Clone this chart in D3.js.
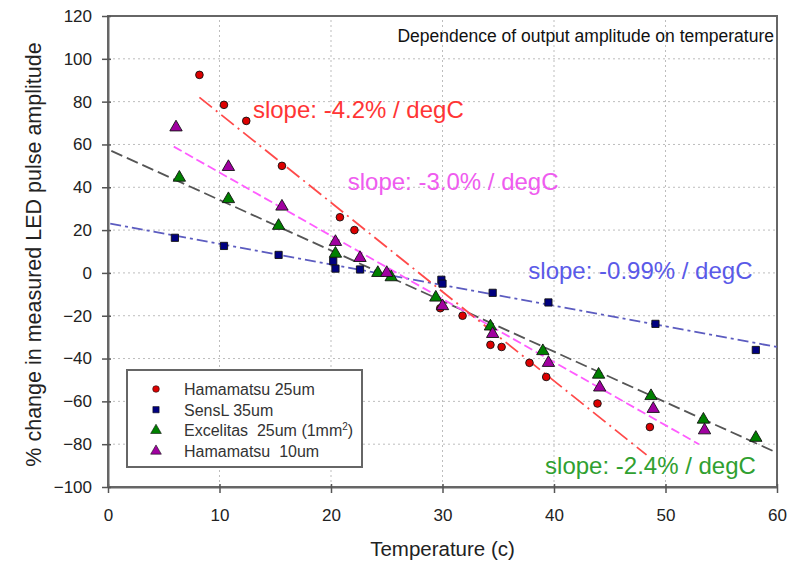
<!DOCTYPE html>
<html>
<head>
<meta charset="utf-8">
<script src="https://cdn.jsdelivr.net/npm/d3@7"></script>
<style>
  body { margin: 0; background: #fff; }
  svg { font-family: "Liberation Sans", Arial, sans-serif; }
</style>
</head>
<body>
<div id="chart"></div>
<script>
// data: [temperature, % change]
const hama25 = [[8.2, 92.5], [10.4, 78.5], [12.4, 71], [15.6, 50], [20.8, 26], [22.1, 20],
  [29.8, -16.5], [31.8, -20], [34.3, -33.6], [35.3, -34.6], [37.8, -42], [39.3, -48.6],
  [43.9, -61], [48.6, -72]]
const sensl35 = [[6.0, 16.4], [10.4, 12.6], [15.3, 8.4], [20.2, 5.5], [20.4, 2], [22.6, 1.6],
  [29.9, -3.2], [30.0, -5], [34.5, -9.3], [39.5, -13.8], [49.1, -23.8], [58.1, -36]]
const excel25 = [[6.4, 44.5], [10.8, 34.5], [15.3, 22], [20.4, 9], [24.2, 0], [25.4, -2],
  [29.4, -11.5], [34.3, -25], [39.0, -36.5], [44.0, -47.5], [48.7, -57.5], [53.4, -68.5],
  [58.1, -77]]
const hama10 = [[6.1, 68], [10.8, 49.5], [15.6, 31], [20.4, 14.5], [22.6, 7], [25.0, 0],
  [30.0, -15.5], [34.5, -28.5], [39.5, -42], [44.1, -53.5], [48.9, -63.5], [53.5, -73.5]]

// fitted lines, two end points each
const fitRed = [[8.2, 82], [48.3, -85]]
const fitMagenta = [[5.9, 59], [53, -80]]
const fitGray = [[0.3, 57], [60, -84]]
const fitBlue = [[0.2, 23], [60, -34.6]]

const xTicks = [0, 10, 20, 30, 40, 50, 60]
const yTicks = [-100, -80, -60, -40, -20, 0, 20, 40, 60, 80, 100, 120]

const width = 800, height = 561
const margin = {top: 16, right: 23, bottom: 74, left: 108}

const svg = d3.select('#chart').append('svg')
  .attr('width', width).attr('height', height)

const x = d3.scaleLinear().domain([0, 60]).range([margin.left, width - margin.right])
const y = d3.scaleLinear().domain([-100, 120]).range([height - margin.bottom, margin.top])

// grid
svg.append('g').selectAll('line')
  .data(yTicks.slice(1, -1)).enter().append('line')
  .attr('x1', x(0)).attr('x2', x(60))
  .attr('y1', d => y(d)).attr('y2', d => y(d))
  .attr('stroke', '#bdbdbd').attr('stroke-dasharray', '2,3')
svg.append('g').selectAll('line')
  .data(xTicks.slice(1, -1)).enter().append('line')
  .attr('x1', d => x(d)).attr('x2', d => x(d))
  .attr('y1', y(-100)).attr('y2', y(120))
  .attr('stroke', '#bdbdbd').attr('stroke-dasharray', '2,3')

// frame
svg.append('rect')
  .attr('x', x(0)).attr('y', y(120))
  .attr('width', x(60) - x(0)).attr('height', y(-100) - y(120))
  .attr('fill', 'none').attr('stroke', '#666').attr('stroke-width', 2)

// axes
const xAxis = svg.append('g')
  .attr('transform', `translate(0,${y(-100)})`)
  .call(d3.axisBottom(x).tickValues(xTicks).tickSize(6).tickSizeOuter(0).tickPadding(16))
const yAxis = svg.append('g')
  .attr('transform', `translate(${x(0)},0)`)
  .call(d3.axisLeft(y).tickValues(yTicks).tickSize(6).tickSizeOuter(0).tickPadding(10))

;[xAxis, yAxis].forEach(a => {
  a.select('.domain').attr('stroke', '#666').attr('stroke-width', 2)
  a.selectAll('.tick line').attr('stroke', '#555').attr('stroke-width', 1.5)
  a.selectAll('.tick text').attr('font-size', 17).attr('fill', '#222')
    .attr('font-family', '"Liberation Sans", Arial, sans-serif')
})
xAxis.selectAll('.tick line').attr('y1', -3)
yAxis.selectAll('.tick line').attr('x1', 3)

// fit lines
const line = d3.line().x(d => x(d[0])).y(d => y(d[1]))
const fits = [
  {pts: fitBlue, color: '#5c5cc0', dash: '11,4,3,4'},
  {pts: fitGray, color: '#555', dash: '12,5'},
  {pts: fitMagenta, color: '#ff5cff', dash: '9,4'},
  {pts: fitRed, color: '#ff4a4a', dash: '16,5,2,5'}
]
svg.append('g').selectAll('path')
  .data(fits).enter().append('path')
  .attr('d', d => line(d.pts))
  .attr('fill', 'none')
  .attr('stroke', d => d.color)
  .attr('stroke-width', 1.8)
  .attr('stroke-dasharray', d => d.dash)

// markers
const series = [
  {name: 'Hamamatsu 25um', data: hama25, type: d3.symbolCircle, size: 46, fill: '#dd0000'},
  {name: 'SensL 35um', data: sensl35, type: d3.symbolSquare, size: 52, fill: '#000080'},
  {name: 'Excelitas  25um (1mm', data: excel25, type: d3.symbolTriangle, size: 66, fill: '#008000'},
  {name: 'Hamamatsu  10um', data: hama10, type: d3.symbolTriangle, size: 66, fill: '#a000a0'}
]
const symbol = d3.symbol()
series.forEach(s => {
  svg.append('g').selectAll('path')
    .data(s.data).enter().append('path')
    .attr('transform', d => `translate(${x(d[0])},${y(d[1])})`)
    .attr('d', symbol.type(s.type).size(s.size)())
    .attr('fill', s.fill)
    .attr('stroke', '#111')
    .attr('stroke-width', 0.9)
})

// slope labels
const slopes = [
  {text: 'slope: -4.2% / degC', color: '#ff3535', at: [13.0, 72.5]},
  {text: 'slope: -3.0% / degC', color: '#ef5cef', at: [21.5, 38.5]},
  {text: 'slope: -0.99% / degC', color: '#5a5ae8', at: [37.7, -2.8]},
  {text: 'slope: -2.4% / degC', color: '#30a030', at: [39.2, -93.7]}
]
svg.append('g').selectAll('text')
  .data(slopes).enter().append('text')
  .attr('x', d => x(d.at[0])).attr('y', d => y(d.at[1]))
  .attr('fill', d => d.color)
  .attr('font-size', 24)
  .text(d => d.text)

svg.append('text')
  .attr('x', x(60) - 3).attr('y', 42)
  .attr('text-anchor', 'end')
  .attr('font-size', 17.5)
  .attr('fill', '#111')
  .text('Dependence of output amplitude on temperature')

// axis titles
svg.append('text')
  .attr('x', (x(0) + x(60)) / 2).attr('y', 556)
  .attr('text-anchor', 'middle')
  .attr('font-size', 20.5)
  .attr('fill', '#222')
  .text('Temperature (c)')
svg.append('text')
  .attr('transform', `translate(41,${(y(-100) + y(120)) / 2 + 3}) rotate(-90)`)
  .attr('text-anchor', 'middle')
  .attr('font-size', 21.5)
  .attr('fill', '#222')
  .text('% change in measured LED pulse amplitude')

// legend
const legend = svg.append('g').attr('transform', 'translate(127,370)')
legend.append('rect')
  .attr('width', 235).attr('height', 97)
  .attr('fill', '#fff').attr('stroke', '#666').attr('stroke-width', 2)
const items = legend.selectAll('g.item')
  .data(series).enter().append('g')
  .attr('class', 'item')
  .attr('transform', (d, i) => `translate(0,${19 + i * 20.7})`)
items.append('path')
  .attr('transform', 'translate(29,0)')
  .attr('d', d => symbol.type(d.type).size(d.size * 0.75)())
  .attr('fill', d => d.fill)
  .attr('stroke', '#111').attr('stroke-width', 0.6)
const labels = items.append('text')
  .attr('x', 57).attr('y', 6)
  .attr('font-size', 16)
  .attr('fill', '#333')
  .style('white-space', 'pre')
  .text(d => d.name)
labels.filter((d, i) => i === 2).each(function () {
  const t = d3.select(this)
  t.append('tspan').attr('dy', -6).attr('font-size', 10).text('2')
  t.append('tspan').attr('dy', 6).text(')')
})
</script>
</body>
</html>
